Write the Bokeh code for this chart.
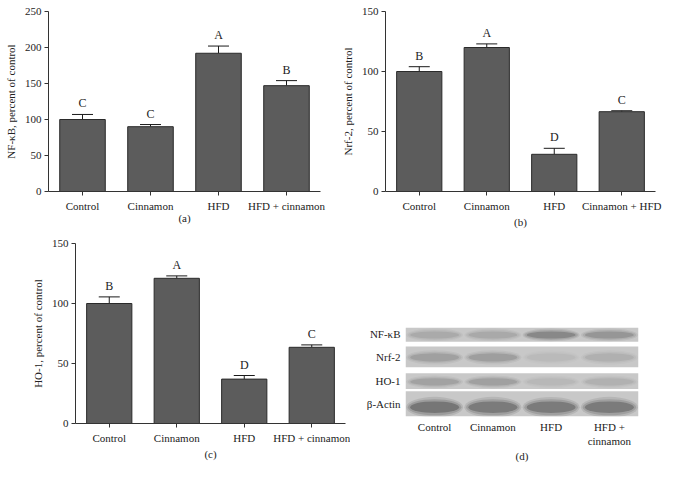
from bokeh.plotting import figure
from bokeh.models import FactorRange, Range1d, FixedTicker, Whisker, ColumnDataSource, TeeHead
from bokeh.layouts import column, row
from bokeh.core.properties import value
from bokeh.embed import file_html
from bokeh.resources import INLINE

# ---------------- data ----------------
cats_a = ["Control", "Cinnamon", "HFD", "HFD + cinnamon"]
nfkb_vals = [100, 90, 192, 147]
nfkb_errs = [7, 3, 10, 7]
nfkb_letters = ["C", "C", "A", "B"]

cats_b = ["Control", "Cinnamon", "HFD", "Cinnamon + HFD"]
nrf2_vals = [100, 120, 31, 66.5]
nrf2_errs = [4, 3, 5, 0.8]
nrf2_letters = ["B", "A", "D", "C"]

cats_c = ["Control", "Cinnamon", "HFD", "HFD + cinnamon"]
ho1_vals = [100, 121, 37, 63.5]
ho1_errs = [5.5, 2, 3, 2]
ho1_letters = ["B", "A", "D", "C"]

yticks_a = [0, 50, 100, 150, 200, 250]
yticks_bc = [0, 50, 100, 150]

# western blot (panel d): lanes, proteins and relative band intensity
blot_lanes = ["Control", "Cinnamon", "HFD", "HFD +\ncinnamon"]
blot_proteins = ["NF-κB", "Nrf-2", "HO-1", "β-Actin"]
band_nfkb = [0.30, 0.32, 0.70, 0.55]
band_nrf2 = [0.42, 0.45, 0.12, 0.25]
band_ho1 = [0.40, 0.42, 0.15, 0.22]
band_actin = [0.95, 0.90, 0.90, 0.90]

FONT = "Liberation Serif"
TXT = "#222222"


def style_axes(p):
    for ax in (p.xaxis[0], p.yaxis[0]):
        ax.axis_line_color = "#333333"
        ax.major_tick_line_color = "#333333"
        ax.major_tick_in = 0
        ax.major_tick_out = 4
        ax.minor_tick_line_color = None
        ax.major_label_text_font = FONT
        ax.major_label_text_font_size = "11px"
        ax.major_label_text_color = TXT
        ax.axis_label_text_font = FONT
        ax.axis_label_text_font_size = "11px"
        ax.axis_label_text_font_style = "normal"
        ax.axis_label_text_color = TXT
    p.xgrid.grid_line_color = None
    p.ygrid.grid_line_color = None
    p.outline_line_color = None


def bar_panel(cats, vals, errs, letters, ymax, yticks, ylabel, panel,
              width, height, mbl, mbr, mbt, mbb, panel_standoff):
    p = figure(x_range=FactorRange(*cats), y_range=Range1d(0, ymax),
               width=width, height=height, output_backend="svg",
               toolbar_location=None, min_border_left=mbl, min_border_right=mbr,
               min_border_top=mbt, min_border_bottom=mbb)
    upper = [v + e for v, e in zip(vals, errs)]
    src = ColumnDataSource(dict(cat=cats, val=vals, upper=upper, letter=letters))
    p.vbar(x="cat", top="val", width=0.67, source=src,
           fill_color="#5c5c5c", line_color="#2a2a2a", line_width=1)
    w = Whisker(base="cat", lower="val", upper="upper", source=src,
                line_color="#1a1a1a", line_width=1, lower_head=None,
                upper_head=TeeHead(size=21, line_color="#1a1a1a", line_width=1))
    p.add_layout(w)
    p.text(x="cat", y="upper", text="letter", source=src, text_align="center",
           text_baseline="bottom", y_offset=-4, text_font=value(FONT),
           text_font_size="12px", text_color=TXT)
    style_axes(p)
    p.yaxis.ticker = FixedTicker(ticks=yticks)
    p.yaxis.axis_label = ylabel
    p.yaxis.major_label_standoff = 3
    p.yaxis.axis_label_standoff = 5
    p.xaxis.axis_label = panel
    p.xaxis.major_label_standoff = 4
    p.xaxis.axis_label_standoff = panel_standoff
    return p


pa = bar_panel(cats_a, nfkb_vals, nfkb_errs, nfkb_letters, 250, yticks_a,
               "NF-κB, percent of control", "(a)", 338, 236, 48, 18, 11, 45, -3)
pb = bar_panel(cats_b, nrf2_vals, nrf2_errs, nrf2_letters, 150, yticks_bc,
               "Nrf-2, percent of control", "(b)", 335, 236, 43, 18, 11, 45, 1)
pc = bar_panel(cats_c, ho1_vals, ho1_errs, ho1_letters, 150, yticks_bc,
               "HO-1, percent of control", "(c)", 350, 237, 75, 5, 7, 50, 1)

# ---------------- blot panel ----------------
# row extents (pixels from the top of the blot frame) - layout constants
row_top = [0, 19, 46, 64]
row_bot = [14.3, 40, 61.6, 89.3]
band_center = [7.5, 30, 54.5, 80]
band_height = [8, 9, 8, 13]

pd_ = figure(x_range=Range1d(-0.5, 3.5), y_range=Range1d(89.3, 0),
             width=323, height=237, output_backend="svg", toolbar_location=None,
             min_border_left=55, min_border_right=35, min_border_top=91,
             min_border_bottom=57)
n_lanes = len(blot_lanes)
pd_.quad(left=[-0.5] * 4, right=[3.5] * 4, top=row_top, bottom=row_bot,
         fill_color="#c8c8c8", line_color=None)
xs = list(range(n_lanes))
for i, bands in enumerate([band_nfkb, band_nrf2, band_ho1, band_actin]):
    for wscale, hscale, a in ((0.98, 1.6, 0.10), (0.92, 1.25, 0.14), (0.84, 0.9, 0.25)):
        pd_.ellipse(x=xs, y=[band_center[i]] * n_lanes, width=wscale,
                    height=band_height[i] * hscale, fill_color="black",
                    fill_alpha=[b * a for b in bands], line_color=None)

style_axes(pd_)
pd_.xaxis.ticker = FixedTicker(ticks=xs)
pd_.xaxis.major_label_overrides = {i: lab for i, lab in enumerate(blot_lanes)}
pd_.xaxis.axis_line_color = None
pd_.xaxis.major_tick_line_color = None
pd_.xaxis.major_label_standoff = 0
pd_.xaxis.axis_label = "(d)"
pd_.xaxis.axis_label_standoff = 0
row_ticks = [7, 30, 54, 77]
pd_.yaxis.ticker = FixedTicker(ticks=row_ticks)
pd_.yaxis.major_label_overrides = {t: lab for t, lab in zip(row_ticks, blot_proteins)}
pd_.yaxis.axis_line_color = None
pd_.yaxis.major_tick_line_color = None
pd_.yaxis.major_label_standoff = 1

layout = column(row(column(pa), column(pb)), row(column(pc), column(pd_)))
open("out.html", "w").write(file_html(layout, INLINE))
